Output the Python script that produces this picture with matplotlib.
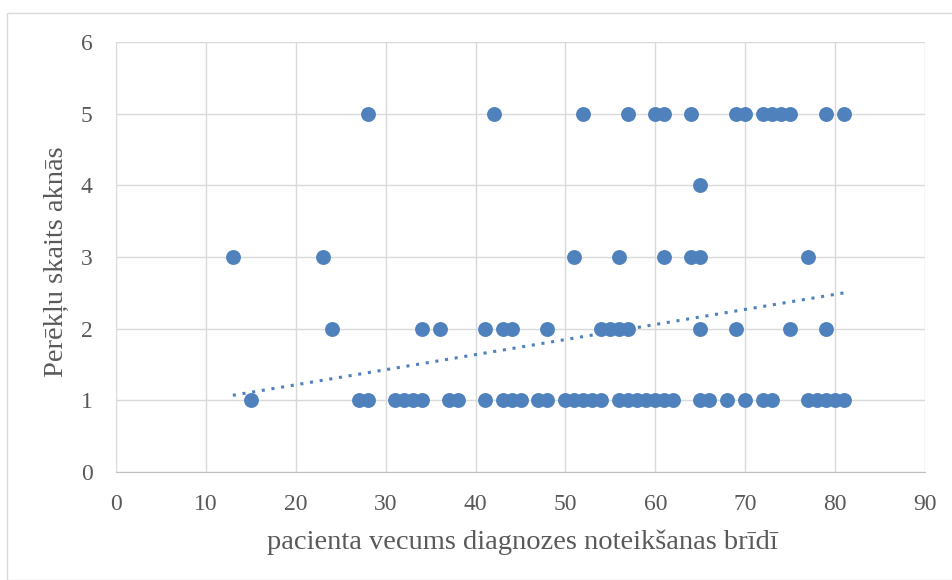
import numpy as np
import matplotlib.pyplot as plt
from matplotlib.patches import Rectangle

# age at diagnosis vs. number of liver lesions
age_1 = [15, 27, 28, 31, 32, 33, 34, 37, 38, 41, 43, 44, 45, 47, 48, 50, 51, 52, 53, 54,
         56, 57, 58, 59, 60, 61, 62, 65, 66, 68, 70, 72, 73, 77, 78, 79, 80, 81]
age_2 = [24, 34, 36, 41, 43, 44, 48, 54, 55, 56, 57, 65, 69, 75, 79]
age_3 = [13, 23, 51, 56, 61, 64, 65, 77]
age_4 = [65]
age_5 = [28, 42, 52, 57, 60, 61, 64, 69, 70, 72, 73, 74, 75, 79, 81]

# linear trend line as drawn in the original (overlapping points hide some data)
trend_x = [13, 81]
trend_y = [1.07, 2.50]

ages = np.array(age_1 + age_2 + age_3 + age_4 + age_5)
lesions = np.array([1] * len(age_1) + [2] * len(age_2) + [3] * len(age_3)
                   + [4] * len(age_4) + [5] * len(age_5))

serif = ['Liberation Serif', 'DejaVu Serif']
blue = '#4F81BD'
grey_text = '#595959'

fig = plt.figure(figsize=(9.52, 5.8), dpi=100)
fig.patches.append(Rectangle((7 / 952, 0), 1, 1 - 13 / 580, transform=fig.transFigure,
                             fill=False, edgecolor='#D9D9D9', linewidth=1))
ax = fig.add_axes([116 / 952, 1 - 472 / 580, (925 - 116) / 952, (472 - 42) / 580])

ax.scatter(ages, lesions, s=115, color=blue, zorder=3, linewidths=0)
ax.plot(trend_x, trend_y, linestyle=(0, (1, 2.2)), color=blue, linewidth=2.2, zorder=2)

ax.set_xlim(0, 90)
ax.set_ylim(0, 6)
ax.set_xticks(range(0, 91, 10))
ax.set_yticks(range(0, 7))
ax.grid(True, color='#D9D9D9', linewidth=1)
ax.set_axisbelow(True)
for side in ['top', 'right', 'left']:
    ax.spines[side].set_visible(False)
ax.spines['bottom'].set_color('#BFBFBF')
ax.tick_params(length=0, labelsize=17, labelcolor=grey_text)
ax.tick_params(axis='x', pad=16)
ax.tick_params(axis='y', pad=17)
for lbl in ax.get_xticklabels() + ax.get_yticklabels():
    lbl.set_family(serif)

ax.set_xlabel('pacienta vecums diagnozes noteikšanas brīdī', fontsize=20.5,
              color=grey_text, family=serif)
ax.xaxis.set_label_coords(0.503, -(542 - 472) / 430)
ax.xaxis.label.set_verticalalignment('center')
ax.set_ylabel('Perēkļu skaits aknās', fontsize=20.5, color=grey_text, family=serif)
ax.yaxis.set_label_coords(-(116 - 56) / 809, 0.49)
ax.yaxis.label.set_verticalalignment('center')

fig.savefig('out.png', dpi=100)
